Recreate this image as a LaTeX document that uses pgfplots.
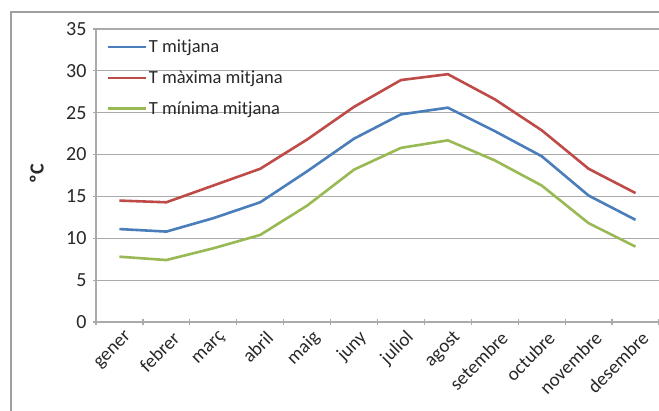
\documentclass[border=0pt]{standalone}
\usepackage{fontspec}
\setmainfont{Carlito}
\usepackage{pgfplots}
\pgfplotsset{compat=1.18}
\definecolor{xlblue}{RGB}{74,126,187}
\definecolor{xlred}{RGB}{190,75,72}
\definecolor{xlgreen}{RGB}{152,185,84}
\definecolor{gridg}{RGB}{170,170,170}
\definecolor{txt}{RGB}{40,40,40}
\begin{document}
\begin{tikzpicture}[x=1pt,y=1pt]
\useasboundingbox (0,0) rectangle (659,411);
\fill[white] (0,0) rectangle (659,411);
\draw[gray!75, line width=1.2pt] (11,0) -- (11,399) -- (659,399);
\begin{axis}[
  at={(96pt,89pt)}, anchor=south west,
  scale only axis, width=563pt, height=293pt,
  xmin=-0.5, xmax=11.5, ymin=0, ymax=35,
  ytick={0,5,...,35},
  xtick={0,...,11},
  xticklabels={gener,febrer,març,abril,maig,juny,juliol,agost,setembre,octubre,novembre,desembre},
  minor xtick={-0.5,0.5,...,11.5},
  major x tick style={draw=none},
  minor tick length=6pt, major tick length=6pt,
  tick align=outside,
  tick style={gridg, line width=1.2pt},
  axis x line=bottom, axis y line=left,
  axis line style={-, gridg, line width=1.2pt},
  ymajorgrids, grid style={gridg, line width=1.2pt},
  /pgf/number format/assume math mode=true,
  yticklabel style={font=\fontsize{20}{20}\selectfont, text=txt, xshift=-3pt},
  xticklabel style={font=\fontsize{19}{19}\selectfont, text=txt, rotate=45, anchor=east, inner sep=0pt, yshift=-14pt, xshift=0pt},
  ylabel={\textbf{ºC}},
  ylabel style={at={(axis description cs:-0.105,0.505)}, anchor=center, font=\fontsize{20}{20}\selectfont, text=txt},
  legend style={draw=none, fill=none, at={(axis description cs:0.018,0.97)}, anchor=north west,
    font=\fontsize{18.5}{18.5}\selectfont, text=txt, row sep=12.5pt, inner sep=0pt},
  legend cell align=left,
  legend image code/.code={\draw[#1] (0pt,0pt) -- (38pt,0pt);},
  every axis plot/.append style={line width=2.6pt},
  clip=false,
]
\addplot[xlblue] coordinates {(0,11.1) (1,10.8) (2,12.4) (3,14.3) (4,18.0) (5,21.9) (6,24.8) (7,25.6) (8,22.8) (9,19.8) (10,15.1) (11,12.2)};
\addlegendentry{T mitjana}
\addplot[xlred] coordinates {(0,14.5) (1,14.3) (2,16.3) (3,18.3) (4,21.8) (5,25.7) (6,28.9) (7,29.6) (8,26.6) (9,22.9) (10,18.3) (11,15.4)};
\addlegendentry{T màxima mitjana}
\addplot[xlgreen] coordinates {(0,7.8) (1,7.4) (2,8.8) (3,10.4) (4,13.9) (5,18.2) (6,20.8) (7,21.7) (8,19.3) (9,16.3) (10,11.8) (11,9.0)};
\addlegendentry{T mínima mitjana}
\end{axis}
\end{tikzpicture}
\end{document}
